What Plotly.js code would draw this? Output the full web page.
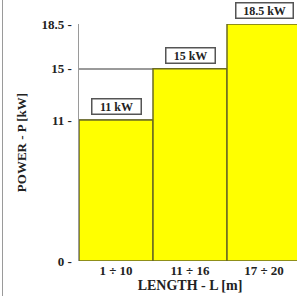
<!DOCTYPE html>
<html>
<head>
<meta charset="utf-8">
<script src="https://cdn.plot.ly/plotly-3.0.1.min.js"></script>
<style>
  html, body { margin: 0; padding: 0; width: 297px; height: 296px; overflow: hidden; background: #fff; }
  #chart { position: absolute; left: 0; top: 0; width: 305px; height: 296px; }
  #edge { position: absolute; left: 2px; top: 0; width: 0; height: 296px; border-left: 1px solid #9a9a9a; }
</style>
</head>
<body>
<div id="chart"></div>
<div id="edge"></div>
<script>
const categories = ["1 ÷ 10", "11 ÷ 16", "17 ÷ 20"];
const powerKW = [11, 15, 18.5];
const yTickVals = [0, 11, 15, 18.5];
const yTickText = ["0", "11", "15", "18.5"];

const serif = "Liberation Serif, Times New Roman, serif";

const trace = {
  type: "bar",
  x: categories,
  y: powerKW,
  width: 1,
  marker: { color: "#ffff00", line: { color: "#6b6b22", width: 1.5 } },
  hoverinfo: "x+y"
};

const annotations = categories.map((c, i) => {
  const label = powerKW[i] + " kW";
  return {
    x: c, y: powerKW[i], xref: "x", yref: "y",
    text: "<b>" + label + "</b>",
    showarrow: false, yanchor: "bottom", yshift: 5,
    width: 4 * label.length + 28,
    font: { family: serif, size: 12, color: "#222" },
    bgcolor: "#fff", bordercolor: "#555", borderwidth: 1.5, borderpad: 0
  };
});

const layout = {
  width: 305, height: 296,
  margin: { l: 79, r: 4, t: 24, b: 35 },
  paper_bgcolor: "#fff", plot_bgcolor: "#fff",
  showlegend: false,
  bargap: 0,
  xaxis: {
    type: "category",
    range: [-0.5, 2.5],
    showgrid: false, zeroline: false, showline: false,
    ticks: "",
    tickfont: { family: serif, size: 13, color: "#222", weight: "bold" },
    title: { text: "<b>LENGTH - L [m]</b>", font: { family: serif, size: 14, color: "#222" }, standoff: 3 }
  },
  yaxis: {
    range: [0, 18.5],
    tickvals: yTickVals, ticktext: yTickText.map(t => "<b>" + t + " -</b>"),
    ticks: "",
    showgrid: true, gridcolor: "#9a9a9a", gridwidth: 1.5,
    zeroline: false,
    showline: true, linecolor: "#9a9a9a", linewidth: 1.5,
    tickfont: { family: serif, size: 13, color: "#222" },
    ticklabelstandoff: 3,
    title: { text: "<b>POWER - P [kW]</b>", font: { family: serif, size: 13, color: "#222" }, standoff: 12 }
  },
  annotations: annotations
};

Plotly.newPlot("chart", [trace], layout, { staticPlot: true, displayModeBar: false });
</script>
</body>
</html>
